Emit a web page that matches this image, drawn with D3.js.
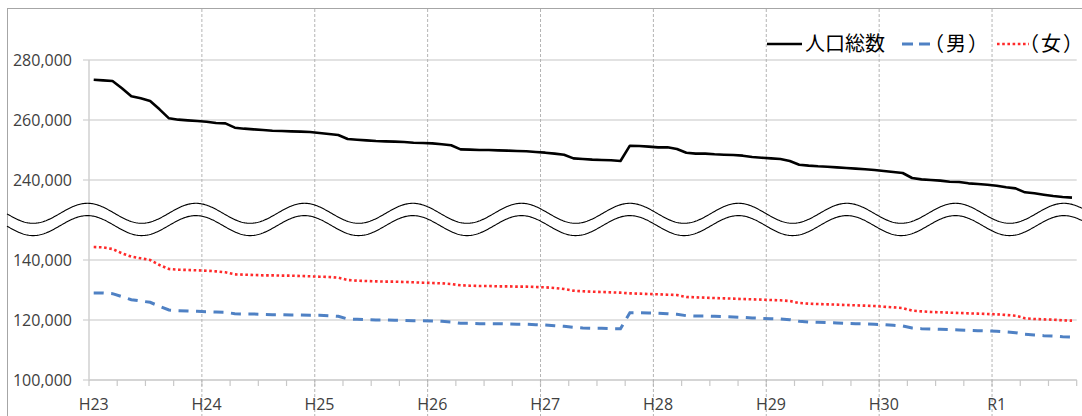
<!DOCTYPE html>
<html>
<head>
<meta charset="utf-8">
<script src="https://cdn.jsdelivr.net/npm/d3@7"></script>
<style>
  html, body { margin: 0; padding: 0; background: #fff; }
  svg { display: block; }
  .paren { font-feature-settings: "halt" 1; }
</style>
</head>
<body>
<svg id="chart" width="1082" height="416"></svg>
<script>
// ---------------- data ----------------
const yearLabels = ["H23","H24","H25","H26","H27","H28","H29","H30","R1"];
const monthsPerYear = 12;
const monthCount = 105;

const total = [
  273440,273220,273000,270560,267890,267220,266330,263560,260560,260110,259890,259670,
  259440,259000,258890,257440,257110,256890,256670,256440,256330,256220,256110,256000,
  255670,255330,255000,253670,253440,253220,253000,252890,252780,252670,252440,252330,
  252220,251890,251560,250220,250110,250000,250000,249890,249780,249670,249560,249330,
  249110,248780,248440,247220,247000,246780,246670,246560,246330,251440,251330,251110,
  250890,250890,250330,249110,248780,248780,248560,248440,248330,248110,247670,247440,
  247220,247000,246330,245110,244780,244560,244440,244220,244000,243780,243560,243330,
  243000,242670,242330,240670,240220,240000,239780,239440,239330,238890,238670,238440,
  238110,237560,237220,235890,235560,235110,234670,234330,234110
];
const male = [
  129000,129000,128780,127780,126780,126330,125890,124560,123330,123110,123000,122890,
  122780,122670,122560,122110,122000,122000,121890,121780,121780,121670,121670,121560,
  121560,121440,121220,120330,120220,120110,120000,120000,119890,119890,119780,119780,
  119670,119560,119330,118890,118890,118780,118780,118780,118670,118560,118560,118440,
  118330,118110,117890,117560,117330,117220,117220,117110,117110,122440,122440,122330,
  122220,122110,121890,121440,121330,121330,121220,121110,121000,120890,120670,120560,
  120440,120330,120110,119560,119330,119220,119110,119000,118890,118780,118670,118560,
  118440,118220,118000,117330,117110,117000,116890,116780,116670,116560,116440,116330,
  116220,116000,115780,115220,115000,114780,114670,114440,114330
];
const female = [
  144330,144220,143670,142220,141110,140560,140000,138330,137000,136780,136670,136560,
  136440,136220,135890,135220,135110,135000,134890,134890,134780,134780,134670,134560,
  134440,134330,134110,133330,133110,133000,132890,132780,132780,132670,132560,132440,
  132330,132220,132000,131560,131440,131330,131330,131220,131220,131110,131110,131000,
  130890,130670,130330,129780,129560,129440,129330,129220,129110,128890,128780,128670,
  128560,128440,128330,127670,127560,127440,127330,127220,127110,127000,126890,126780,
  126670,126560,126330,125670,125440,125330,125220,125110,125000,124890,124780,124670,
  124440,124220,124000,123110,122890,122670,122560,122440,122330,122220,122110,122000,
  121890,121670,121440,120560,120330,120220,120110,119890,119780
];
const yTickValues = [100000,120000,140000,240000,260000,280000];
const seriesNames = ["人口総数","（男）","（女）"];

// categories (one per month), labelled by era-year
const categories = [];
for (let i = 0; i < monthCount; i++) {
  categories.push(yearLabels[Math.floor(i / monthsPerYear)] + "-" + (i % monthsPerYear + 1));
}

// ---------------- layout ----------------
const svg = d3.select("#chart");
const left = 89, right = 1076.7;
const font = "'Open Sans', 'Liberation Sans', sans-serif";
const cjkFont = "'Noto Sans CJK JP', 'Noto Sans', sans-serif";

const x = d3.scaleBand().domain(categories).range([left, right]).padding(0);
const xc = c => x(c) + x.bandwidth() / 2;
// broken axis: lower part 100k-140k, upper part 240k-280k (same px per unit)
const yLow = d3.scaleLinear().domain([100000, 140000]).range([380, 260]);
const yHigh = d3.scaleLinear().domain([240000, 280000]).range([180, 60]);
const y = v => (v >= 190000 ? yHigh(v) : yLow(v));

// outer border
svg.append("rect")
  .attr("x", 7.5).attr("y", 8.5)
  .attr("width", 1090).attr("height", 420)
  .attr("fill", "none").attr("stroke", "#a6a6a6").attr("stroke-width", 1);

// horizontal gridlines (with outward tick)
svg.append("g").selectAll("line")
  .data(yTickValues)
  .join("line")
  .attr("x1", left - 6).attr("x2", right)
  .attr("y1", d => y(d)).attr("y2", d => y(d))
  .attr("stroke", "#d9d9d9").attr("stroke-width", 1.5);

// y axis line
svg.append("line")
  .attr("x1", left).attr("x2", left)
  .attr("y1", y(280000)).attr("y2", y(100000))
  .attr("stroke", "#d0d0d0").attr("stroke-width", 1.5);

// y labels
svg.append("g").selectAll("text")
  .data(yTickValues)
  .join("text")
  .attr("x", 72)
  .attr("y", d => y(d))
  .attr("dy", "0.36em")
  .attr("text-anchor", "end")
  .attr("font-family", font)
  .attr("font-size", 16)
  .attr("fill", "#404040")
  .text(d => d3.format(",")(d));

// x axis line + ticks every 3 months
svg.append("line")
  .attr("x1", left).attr("x2", right)
  .attr("y1", y(100000)).attr("y2", y(100000))
  .attr("stroke", "#d0d0d0").attr("stroke-width", 1.5);
const tickIdx = d3.range(0, monthCount + 1, 3);
svg.append("g").selectAll("line")
  .data(tickIdx)
  .join("line")
  .attr("x1", i => i < monthCount ? x(categories[i]) : right)
  .attr("x2", i => i < monthCount ? x(categories[i]) : right)
  .attr("y1", y(100000)).attr("y2", y(100000) + 6)
  .attr("stroke", "#c8c8c8").attr("stroke-width", 1.2);

// vertical dashed year gridlines
const yearIdx = d3.range(1, yearLabels.length).map(k => k * monthsPerYear);
svg.append("g").selectAll("line")
  .data(yearIdx)
  .join("line")
  .attr("x1", i => x(categories[i])).attr("x2", i => x(categories[i]))
  .attr("y1", 9).attr("y2", 416)
  .attr("stroke", "#b4b4b4").attr("stroke-width", 1)
  .attr("stroke-dasharray", "3,2");

// x labels
svg.append("g").selectAll("text")
  .data(yearLabels)
  .join("text")
  .attr("x", (d, k) => xc(categories[k * monthsPerYear]))
  .attr("y", 410)
  .attr("text-anchor", "middle")
  .attr("font-family", font)
  .attr("font-size", 16)
  .attr("fill", "#404040")
  .text(d => d);

// wavy break mark
const wavePeriod = 108.5, wavePeak = 87.4, waveAmp = 10;
const waveX = d3.range(7, 1083, 1);
const waveLine = c => d3.line()
  .x(px => px)
  .y(px => c - waveAmp * Math.cos(2 * Math.PI * (px - wavePeak) / wavePeriod))
  .curve(d3.curveLinear)(waveX);
svg.append("path").attr("d", waveLine(213.3))
  .attr("fill", "none").attr("stroke", "#000").attr("stroke-width", 1.1);
svg.append("path").attr("d", waveLine(225.6))
  .attr("fill", "none").attr("stroke", "#000").attr("stroke-width", 1.1);

// series lines
const lineGen = d3.line()
  .x((d, i) => xc(categories[i]))
  .y(d => y(d));

svg.append("path").datum(female)
  .attr("d", lineGen)
  .attr("fill", "none").attr("stroke", "#ff2a2a").attr("stroke-width", 2.6)
  .attr("stroke-dasharray", "2.6,2.6");
svg.append("path").datum(male)
  .attr("d", lineGen)
  .attr("fill", "none").attr("stroke", "#4f81c4").attr("stroke-width", 3)
  .attr("stroke-dasharray", "10,7.5");
svg.append("path").datum(total)
  .attr("d", lineGen)
  .attr("fill", "none").attr("stroke", "#000").attr("stroke-width", 2.6)
  .attr("stroke-linejoin", "round");

// legend
const legend = svg.append("g");
const legendY = 44;
legend.append("line").attr("x1", 767).attr("x2", 802).attr("y1", legendY).attr("y2", legendY)
  .attr("stroke", "#000").attr("stroke-width", 2.6);
legend.append("text").attr("x", 805).attr("y", 51)
  .attr("font-family", cjkFont).attr("font-size", 20).attr("fill", "#000")
  .text(seriesNames[0]);
legend.append("line").attr("x1", 902).attr("x2", 931).attr("y1", legendY).attr("y2", legendY)
  .attr("stroke", "#4f81c4").attr("stroke-width", 3).attr("stroke-dasharray", "11,6");
legend.append("text").attr("class", "paren")
  .attr("x", "934 946 968").attr("y", 51)
  .attr("font-family", cjkFont).attr("font-size", 20).attr("fill", "#000")
  .text(seriesNames[1]);
legend.append("line").attr("x1", 997).attr("x2", 1029).attr("y1", legendY).attr("y2", legendY)
  .attr("stroke", "#ff2a2a").attr("stroke-width", 2.6).attr("stroke-dasharray", "2.6,2.6");
legend.append("text").attr("class", "paren")
  .attr("x", "1029 1041 1063").attr("y", 51)
  .attr("font-family", cjkFont).attr("font-size", 20).attr("fill", "#000")
  .text(seriesNames[2]);
</script>
</body>
</html>
